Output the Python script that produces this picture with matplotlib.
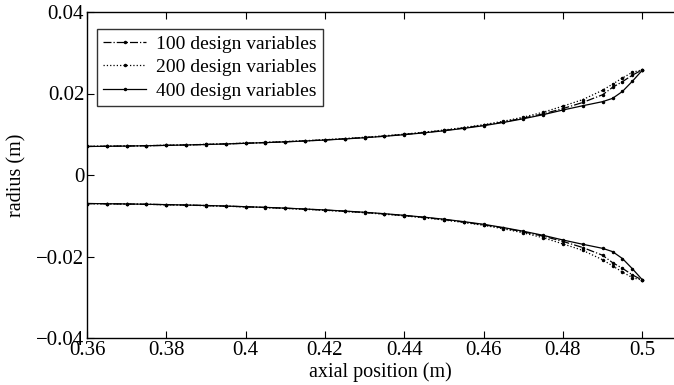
import matplotlib
matplotlib.use('Agg')
import matplotlib.pyplot as plt
import numpy as np

plt.rcParams['font.family'] = ['Liberation Serif', 'DejaVu Serif']

x_pos = [0.360, 0.365, 0.370, 0.375, 0.380, 0.385, 0.390, 0.395, 0.400, 0.405,
         0.410, 0.415, 0.420, 0.425, 0.430, 0.435, 0.440, 0.445, 0.450, 0.455,
         0.460, 0.465, 0.470, 0.475, 0.480, 0.485, 0.490, 0.4925, 0.495, 0.4975, 0.500]

# upper wall radius (m); the lower wall is the mirror image
r_100 = [0.00700, 0.00706, 0.00712, 0.00719, 0.00728, 0.00738, 0.00750, 0.00764, 0.00780, 0.00797,
         0.00816, 0.00838, 0.00862, 0.00889, 0.00920, 0.00955, 0.00995, 0.01042, 0.01094, 0.01155,
         0.01222, 0.01302, 0.01395, 0.01500, 0.01630, 0.01780, 0.01970, 0.02150, 0.02290, 0.02450, 0.02580]
r_200 = [0.00702, 0.00707, 0.00713, 0.00720, 0.00730, 0.00740, 0.00752, 0.00766, 0.00782, 0.00800,
         0.00820, 0.00842, 0.00866, 0.00894, 0.00926, 0.00962, 0.01003, 0.01050, 0.01105, 0.01165,
         0.01235, 0.01320, 0.01420, 0.01540, 0.01690, 0.01850, 0.02080, 0.02230, 0.02380, 0.02520, 0.02580]
r_400 = [0.00700, 0.00705, 0.00710, 0.00718, 0.00727, 0.00737, 0.00748, 0.00762, 0.00778, 0.00795,
         0.00813, 0.00835, 0.00858, 0.00885, 0.00915, 0.00950, 0.00990, 0.01035, 0.01085, 0.01145,
         0.01210, 0.01290, 0.01380, 0.01480, 0.01595, 0.01700, 0.01800, 0.01880, 0.02050, 0.02300, 0.02570]

labels = ['100 design variables', '200 design variables', '400 design variables']
xticks = [0.36, 0.38, 0.40, 0.42, 0.44, 0.46, 0.48, 0.50]
xticklabels = ['0.36', '0.38', '0.4', '0.42', '0.44', '0.46', '0.48', '0.5']
yticks = [-0.04, -0.02, 0, 0.02, 0.04]
yticklabels = ['\u22120.04', '\u22120.02', '0', '0.02', '0.04']

fig = plt.figure(figsize=(6.74, 3.85), dpi=100)
# axes run up to the right edge of the image (original is cropped there)
ax = fig.add_axes([87 / 674, 47 / 385, 587 / 674, 326 / 385])

styles = ['-.', ':', '-']
x = np.array(x_pos)
for r, ls, lab in zip([r_100, r_200, r_400], styles, labels):
    r = np.array(r)
    ax.plot(x, r, color='black', linestyle=ls, linewidth=0.9, marker='.', markersize=3, label=lab)
    ax.plot(x, -r, color='black', linestyle=ls, linewidth=0.9, marker='.', markersize=3)

ax.set_xlim(0.36, 0.508)
ax.set_ylim(-0.04, 0.04)
ax.set_xticks(xticks)
ax.set_xticklabels(xticklabels, fontsize=15)
ax.set_yticks(yticks)
ax.set_yticklabels(yticklabels, fontsize=15)
ax.tick_params(direction='in', top=True, right=False, length=5, width=0.8, pad=2)
for s in ax.spines.values():
    s.set_linewidth(1.0)
ax.spines['right'].set_visible(False)

ax.set_xlabel('axial position (m)', fontsize=14.5, labelpad=2)
ax.set_ylabel('radius (m)', fontsize=14.5, labelpad=7)

leg = ax.legend(loc='upper left', bbox_to_anchor=(10 / 587, 1 - 17 / 326), fontsize=14,
                frameon=True, fancybox=False, handlelength=2.2, borderpad=0.32,
                labelspacing=0.3, handletextpad=0.5, borderaxespad=0)
leg.get_frame().set_edgecolor('black')
leg.get_frame().set_linewidth(1.0)

fig.savefig('out.png', dpi=100)
